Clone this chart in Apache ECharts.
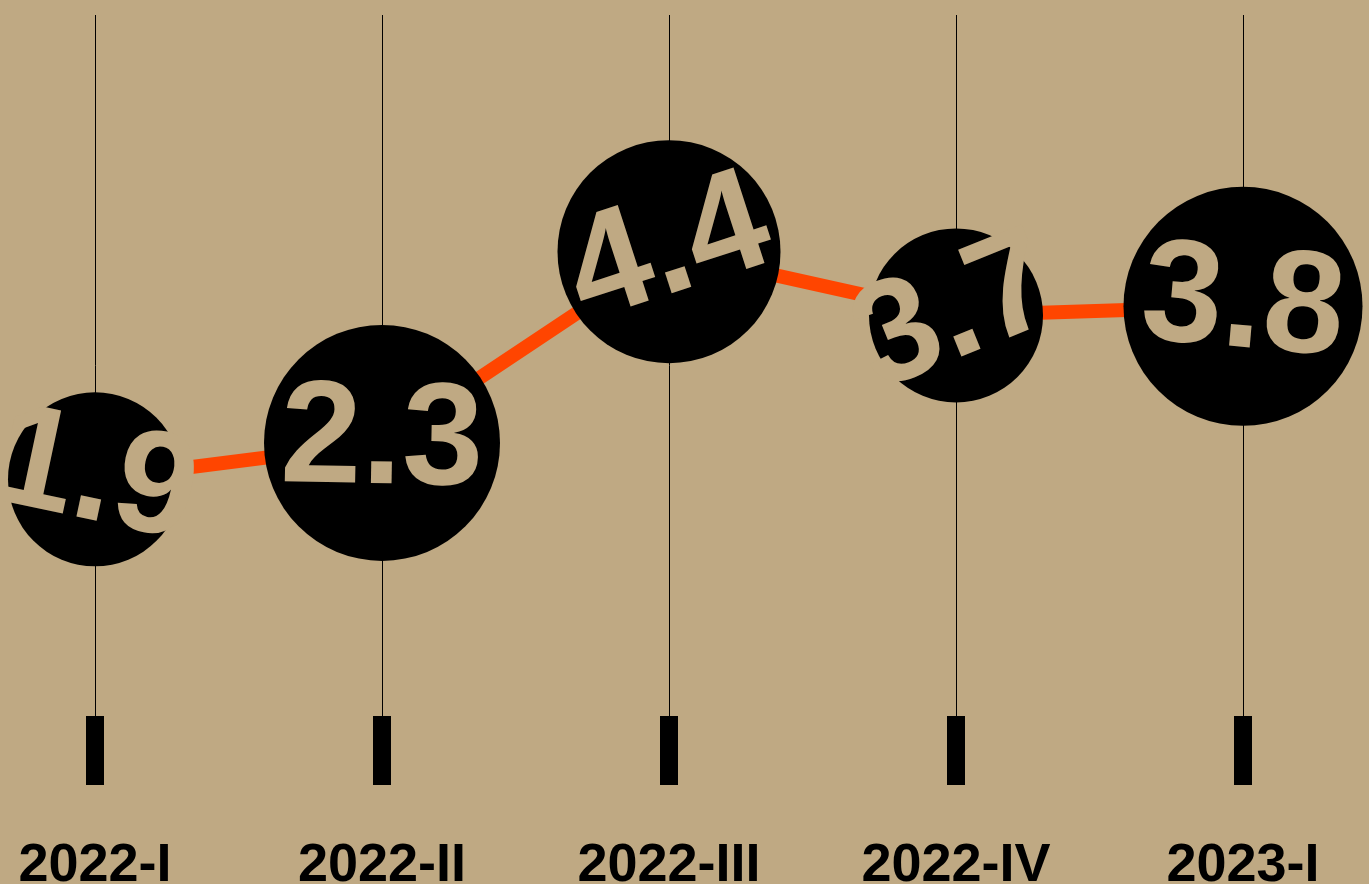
<!DOCTYPE html>
<html>
<head>
<meta charset="utf-8">
<script src="https://cdn.jsdelivr.net/npm/echarts@6/dist/echarts.min.js"></script>
<style>
html,body{margin:0;padding:0;background:#bfa983;}
#chart{width:1369px;height:884px;}
</style>
</head>
<body>
<div id="chart"></div>
<script>
// ---- data ----
const categories = ['2022-I', '2022-II', '2022-III', '2022-IV', '2023-I'];
const values = [1.9, 2.3, 4.4, 3.7, 3.8];

// ---- styling (not data) ----
const BG = '#bfa983';
const bubbleSizes = [174, 236, 223, 174, 239];
const labelTilt = [-12, -1, 18, 22, -5];

const chart = echarts.init(document.getElementById('chart'));
const seriesData = values.map((v, i) => ({
  value: v,
  symbolSize: bubbleSizes[i],
  label: { rotate: labelTilt[i] }
}));

chart.setOption({
  backgroundColor: BG,
  animation: false,
  grid: { left: 95, right: 126, top: 15, bottom: 168, containLabel: false, outerBoundsMode: 'none' },
  xAxis: {
    type: 'category',
    data: categories,
    boundaryGap: false,
    axisLine: { show: false, onZero: false },
    axisTick: { show: true, inside: false, length: 69, lineStyle: { color: '#000', width: 18 } },
    splitLine: { show: true, lineStyle: { color: '#000', width: 1 } },
    axisLabel: {
      interval: 0,
      color: '#000',
      fontFamily: '"Liberation Sans", Arial, sans-serif',
      fontWeight: 'bold',
      fontSize: 54,
      lineHeight: 20,
      margin: 140,
      hideOverlap: false
    }
  },
  yAxis: {
    type: 'value',
    min: -0.7,
    max: 7,
    show: false,
    splitLine: { show: false }
  },
  series: [{
    type: 'line',
    data: seriesData,
    symbol: 'circle',
    showAllSymbol: true,
    clip: false,
    lineStyle: { color: '#ff4500', width: 14 },
    itemStyle: { color: '#000', borderWidth: 0 },
    label: {
      show: true,
      position: 'inside',
      color: BG,
      fontFamily: '"Liberation Sans", Arial, sans-serif',
      fontWeight: 'bold',
      fontSize: 146,
      formatter: p => p.value.toFixed(1)
    },
    emphasis: { disabled: true }
  }]
});
</script>
</body>
</html>
